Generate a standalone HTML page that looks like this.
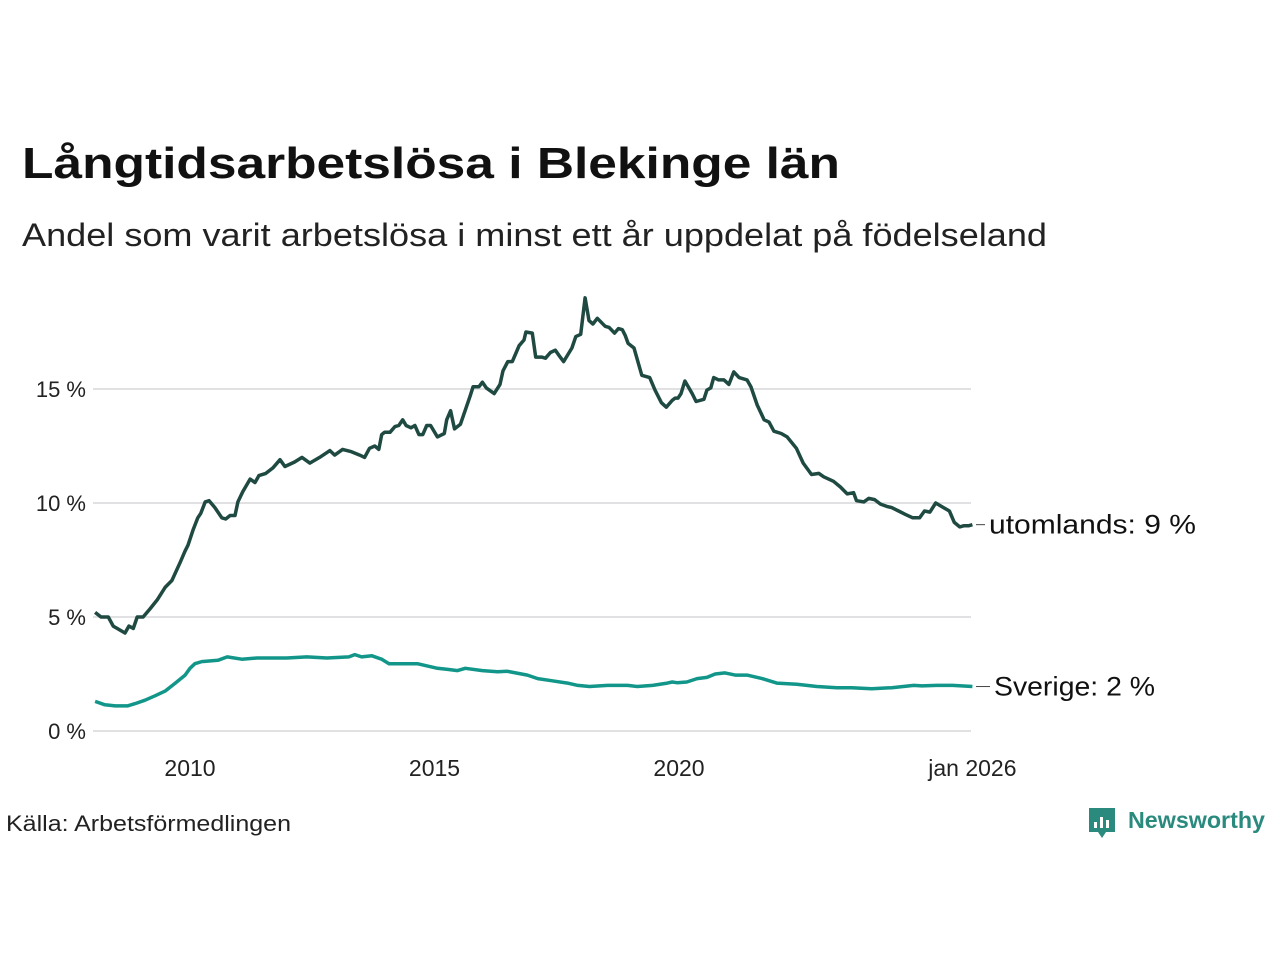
<!DOCTYPE html>
<html><head><meta charset="utf-8"><style>
html,body{margin:0;padding:0;background:#fff;}
svg{display:block;font-family:"Liberation Sans",sans-serif;}
</style></head><body>
<svg id="chart" width="1280" height="960" viewBox="0 0 1280 960">
<text x="22" y="178" font-size="44" font-weight="bold" fill="#111" textLength="818" lengthAdjust="spacingAndGlyphs">Långtidsarbetslösa i Blekinge län</text>
<text x="22" y="246" font-size="32" fill="#222" textLength="1025" lengthAdjust="spacingAndGlyphs">Andel som varit arbetslösa i minst ett år uppdelat på födelseland</text>
<g id="grid"></g><g id="xaxis"></g><g id="lines"></g>
<text x="6" y="831" font-size="22" fill="#222" textLength="285" lengthAdjust="spacingAndGlyphs">Källa: Arbetsförmedlingen</text>
<g>
<path d="M1089 808h26v24h-9l-4 6-4-6h-9z" fill="#2a8a7e"/>
<rect x="1094" y="822" width="3" height="6" fill="#fff"/><rect x="1100" y="817" width="3" height="11" fill="#fff"/><rect x="1106" y="820" width="3" height="8" fill="#fff"/>
<text x="1128" y="828" font-size="23" font-weight="bold" fill="#2a8a7e" textLength="137" lengthAdjust="spacingAndGlyphs">Newsworthy</text>
</g>
</svg>
<script>
const yTicks=[0,5,10,15];
const yTickLabels=["0 %","5 %","10 %","15 %"];
const xTicks=[2010,2015,2020,2026];
const xTickLabels=["2010","2015","2020","jan 2026"];
const utDates=[2008.06,2008.18,2008.33,2008.43,2008.67,2008.75,2008.84,2008.92,2009.04,2009.18,2009.33,2009.49,2009.63,2009.8,2009.9,2009.96,2010.06,2010.16,2010.22,2010.31,2010.39,2010.51,2010.65,2010.73,2010.82,2010.92,2010.98,2011.08,2011.23,2011.33,2011.41,2011.55,2011.7,2011.84,2011.94,2012.14,2012.29,2012.45,2012.65,2012.86,2012.96,2013.12,2013.3,2013.47,2013.57,2013.67,2013.78,2013.86,2013.92,2013.98,2014.09,2014.19,2014.27,2014.35,2014.42,2014.52,2014.6,2014.68,2014.76,2014.84,2014.92,2015.06,2015.2,2015.25,2015.33,2015.41,2015.53,2015.65,2015.73,2015.79,2015.91,2015.98,2016.06,2016.22,2016.34,2016.4,2016.5,2016.59,2016.67,2016.73,2016.83,2016.87,2017.0,2017.07,2017.19,2017.27,2017.37,2017.47,2017.57,2017.64,2017.81,2017.89,2017.99,2018.08,2018.16,2018.24,2018.33,2018.49,2018.57,2018.68,2018.76,2018.84,2018.9,2018.96,2019.08,2019.24,2019.4,2019.51,2019.64,2019.74,2019.86,2019.92,2019.98,2020.04,2020.12,2020.27,2020.35,2020.51,2020.57,2020.65,2020.71,2020.81,2020.92,2021.02,2021.12,2021.23,2021.39,2021.47,2021.6,2021.74,2021.84,2021.94,2022.09,2022.21,2022.4,2022.54,2022.71,2022.86,2022.96,2023.16,2023.3,2023.44,2023.57,2023.63,2023.78,2023.88,2024.0,2024.12,2024.25,2024.35,2024.49,2024.63,2024.78,2024.92,2025.02,2025.13,2025.25,2025.41,2025.53,2025.63,2025.74,2025.82,2025.92,2026.0];
const utValues=[5.2,5.0,5.0,4.6,4.3,4.6,4.5,5.0,5.0,5.35,5.75,6.3,6.6,7.4,7.9,8.15,8.8,9.35,9.55,10.05,10.1,9.8,9.35,9.3,9.45,9.45,10.05,10.5,11.05,10.9,11.2,11.3,11.55,11.9,11.6,11.8,12.0,11.75,12.0,12.3,12.1,12.35,12.25,12.1,12.0,12.4,12.5,12.35,13.0,13.1,13.1,13.35,13.4,13.65,13.4,13.3,13.4,13.0,13.0,13.4,13.4,12.9,13.05,13.65,14.05,13.25,13.45,14.2,14.7,15.1,15.1,15.3,15.05,14.8,15.2,15.8,16.2,16.2,16.6,16.9,17.15,17.5,17.45,16.4,16.4,16.35,16.6,16.7,16.4,16.2,16.8,17.3,17.4,19.0,18.0,17.85,18.1,17.75,17.7,17.45,17.65,17.6,17.35,17.0,16.8,15.6,15.5,14.95,14.4,14.2,14.5,14.6,14.6,14.8,15.35,14.8,14.45,14.55,14.95,15.05,15.5,15.4,15.4,15.2,15.75,15.5,15.4,15.1,14.3,13.65,13.55,13.15,13.05,12.9,12.4,11.75,11.25,11.3,11.15,10.95,10.7,10.4,10.45,10.1,10.05,10.2,10.15,9.95,9.85,9.8,9.65,9.5,9.35,9.35,9.65,9.6,10.0,9.8,9.65,9.15,8.95,9.0,9.0,9.05,8.95,9.05];
const svDates=[2008.06,2008.26,2008.47,2008.72,2008.88,2009.08,2009.29,2009.49,2009.7,2009.9,2010.0,2010.1,2010.25,2010.27,2010.57,2010.76,2011.06,2011.37,2011.98,2012.39,2012.8,2013.25,2013.37,2013.51,2013.72,2013.92,2014.07,2014.44,2014.65,2015.06,2015.27,2015.47,2015.63,2015.98,2016.29,2016.49,2016.9,2017.11,2017.41,2017.72,2017.93,2018.17,2018.54,2018.95,2019.15,2019.46,2019.76,2019.86,2019.96,2020.16,2020.37,2020.57,2020.74,2020.94,2021.15,2021.39,2021.7,2022.0,2022.41,2022.82,2023.23,2023.53,2023.94,2024.35,2024.8,2024.97,2025.27,2025.6,2026.0];
const svValues=[1.3,1.15,1.1,1.1,1.2,1.35,1.55,1.75,2.1,2.45,2.75,2.95,3.05,3.05,3.1,3.25,3.15,3.2,3.2,3.25,3.2,3.25,3.35,3.25,3.3,3.15,2.95,2.95,2.95,2.75,2.7,2.65,2.75,2.65,2.6,2.62,2.45,2.3,2.2,2.1,2.0,1.95,2.0,2.0,1.95,2.0,2.1,2.15,2.12,2.15,2.3,2.35,2.5,2.55,2.45,2.45,2.3,2.1,2.05,1.95,1.9,1.9,1.85,1.9,2.0,1.98,2.0,2.0,1.95];
const NS="http://www.w3.org/2000/svg";
const xs=y=>190+(y-2010)*48.9;
const ys=v=>731-v*22.8;
function mk(tag,attrs,parent){const e=document.createElementNS(NS,tag);for(const k in attrs)e.setAttribute(k,attrs[k]);parent.appendChild(e);return e;}
const grid=document.getElementById('grid');
yTicks.forEach((t,i)=>{
  const l=mk('line',{x1:93,x2:971,y1:ys(t),y2:ys(t),stroke:'#e1e1e4','stroke-width':2},grid);
  
  
  const tx=mk('text',{x:86,y:ys(t)+8,'text-anchor':'end','font-size':22,fill:'#222'},grid);
  tx.textContent=yTickLabels[i];
  
  
});
const xa=document.getElementById('xaxis');
xTicks.forEach((t,i)=>{
  const tx=mk('text',{x:xs(t),y:776,'text-anchor':'middle','font-size':23,fill:'#222'},xa);
  tx.textContent=xTickLabels[i];
  
  
});
const lines=document.getElementById('lines');
function series(d,v,color,name,label,lx,tl){
  const pts=d.map((x,i)=>xs(x).toFixed(1)+','+ys(v[i]).toFixed(1)).join(' ');
  const p=mk('polyline',{points:pts,fill:'none',stroke:color,'stroke-width':3.5,'stroke-linejoin':'round'},lines);
  
  
  const ly=ys(v[v.length-1]);
  const ld=mk('line',{x1:976,x2:lx-4,y1:ly,y2:ly,stroke:'#444','stroke-width':1},lines);
  
  
  const t=mk('text',{x:lx,y:ly+9,'font-size':27,fill:'#111',textLength:tl,lengthAdjust:'spacingAndGlyphs'},lines);
  t.textContent=label;
  
  
}
series(svDates,svValues,'#13968a','sverige','Sverige: 2 %',994,161);
series(utDates,utValues,'#1f4a42','utomlands','utomlands: 9 %',989,207);
</script>
</body></html>
